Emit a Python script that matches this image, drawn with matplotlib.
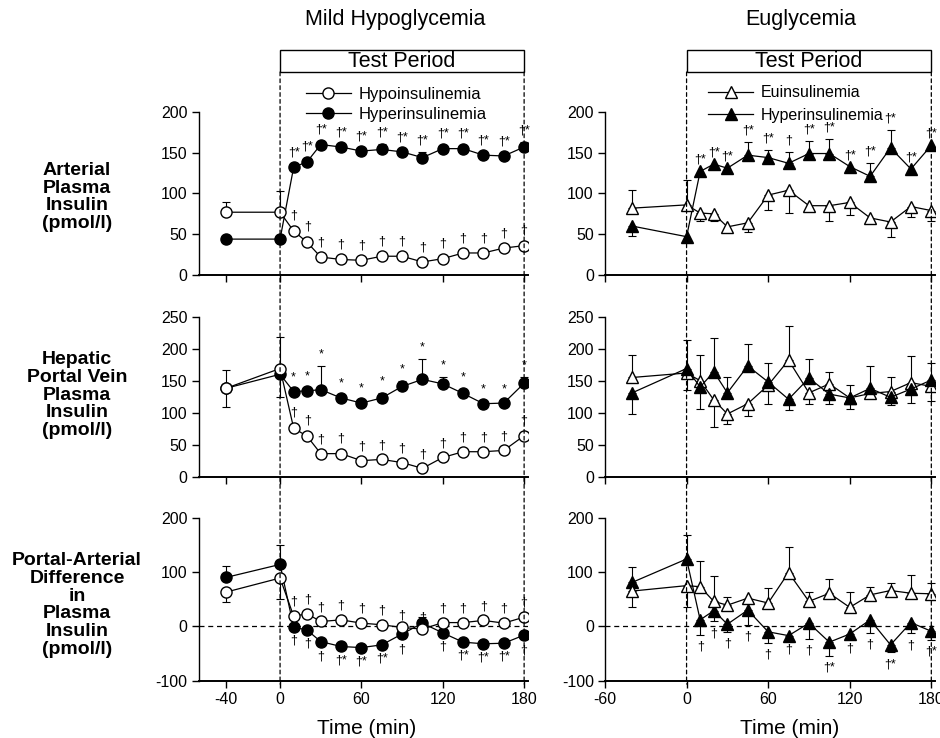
import numpy as np
import matplotlib.pyplot as plt
from matplotlib.patches import Rectangle, ConnectionPatch

plt.rcParams['font.family'] = ['Liberation Sans', 'DejaVu Sans']
plt.rcParams['axes.unicode_minus'] = False

# tiempos de muestreo (min)
tiempo = [-40, 0, 10, 20, 30, 45, 60, 75, 90, 105, 120, 135, 150, 165, 180]

# --- hipoglucemia leve ---
# insulina arterial
hypo_art = [77, 77, 54, 40, 22, 19, 18, 23, 23, 16, 20, 27, 27, 33, 36]
hypo_art_lo = [0, 0, 0, 0, 0, 0, 0, 0, 0, 0, 0, 0, 0, 0, 0]
hypo_art_hi = [13, 26, 5, 5, 4, 4, 4, 4, 4, 4, 4, 4, 4, 4, 5]
hyper_art = [44, 44, 132, 139, 160, 157, 152, 154, 151, 144, 155, 155, 147, 146, 157]
hyper_art_lo = [0, 0, 0, 0, 0, 0, 0, 0, 0, 0, 0, 0, 0, 0, 0]
hyper_art_hi = [0, 0, 4, 4, 4, 4, 4, 7, 4, 7, 4, 4, 4, 4, 6]
hypo_art_sig = ['', '', '†', '†', '†', '†', '†', '†', '†', '†', '†', '†', '†', '†', '†']
hyper_art_sig = ['', '', '†*', '†*', '†*', '†*', '†*', '†*', '†*', '†*', '†*', '†*', '†*', '†*', '†*']

# insulina en vena porta
hypo_pv = [138, 169, 76, 63, 36, 36, 25, 27, 22, 13, 30, 39, 39, 41, 64]
hypo_pv_lo = [29, 44, 5, 6, 0, 6, 0, 0, 0, 0, 0, 0, 0, 0, 0]
hypo_pv_hi = [29, 50, 6, 6, 4, 6, 4, 4, 4, 4, 4, 4, 4, 4, 6]
hyper_pv = [138, 160, 133, 134, 136, 123, 115, 123, 141, 152, 145, 130, 114, 115, 146]
hyper_pv_lo = [0, 0, 0, 0, 0, 0, 0, 0, 0, 0, 0, 0, 0, 0, 0]
hyper_pv_hi = [0, 0, 4, 4, 37, 4, 5, 7, 9, 32, 11, 7, 4, 4, 9]
hypo_pv_sig = ['', '', '†', '†', '†', '†', '†', '†', '†', '†', '†', '†', '†', '†', '†']
hyper_pv_sig = ['', '', '*', '*', '*', '*', '*', '*', '*', '*', '*', '*', '*', '*', '*']

# diferencia porta-arterial
hypo_pa = [63, 89, 19, 23, 9, 12, 6, 3, -2, -5, 7, 7, 11, 6, 17]
hypo_pa_lo = [18, 38, 0, 0, 0, 0, 0, 0, 0, 0, 0, 0, 0, 0, 0]
hypo_pa_hi = [0, 0, 6, 6, 5, 6, 5, 5, 0, 0, 5, 5, 5, 5, 6]
hyper_pa = [90, 114, -1, -7, -28, -37, -39, -34, -14, 6, -12, -29, -32, -31, -16]
hyper_pa_lo = [0, 0, 4, 4, 7, 4, 4, 4, 7, 0, 4, 4, 4, 4, 7]
hyper_pa_hi = [22, 35, 0, 0, 0, 0, 0, 0, 0, 12, 0, 0, 0, 0, 0]
hypo_pa_sig = ['', '', '†', '†', '†', '†', '†', '†', '†', '†', '†', '†', '†', '†', '†']
hyper_pa_sig = ['', '', '†', '†', '†', '†*', '†*', '†*', '†', '', '†', '†*', '†*', '†*', '†']

# --- euglucemia ---
eu_art = [82, 86, 76, 75, 59, 64, 98, 104, 85, 85, 89, 70, 65, 84, 79]
eu_art_lo = [0, 0, 10, 9, 0, 11, 18, 28, 0, 19, 16, 0, 18, 13, 13]
eu_art_hi = [22, 31, 0, 0, 0, 0, 0, 0, 0, 0, 0, 0, 0, 0, 0]
hypeu_art = [60, 47, 127, 136, 131, 147, 144, 137, 149, 149, 133, 121, 156, 130, 159]
hypeu_art_lo = [12, 0, 0, 0, 0, 0, 0, 0, 0, 0, 0, 0, 0, 0, 0]
hypeu_art_hi = [0, 0, 0, 0, 0, 16, 9, 14, 15, 18, 0, 16, 22, 0, 0]
hypeu_art_sig = ['', '', '†*', '†*', '†*', '†*', '†*', '†', '†*', '†*', '†*', '†*', '†*', '†*', '†*']

eu_pv = [155, 162, 150, 120, 98, 114, 143, 182, 131, 145, 123, 130, 133, 147, 141]
eu_pv_lo = [0, 26, 45, 43, 15, 19, 0, 0, 18, 0, 0, 0, 0, 0, 23]
eu_pv_hi = [35, 0, 0, 0, 0, 0, 34, 53, 0, 19, 20, 0, 23, 42, 0]
hypeu_pv = [131, 169, 140, 164, 131, 173, 148, 121, 154, 129, 123, 138, 124, 137, 151]
hypeu_pv_lo = [33, 0, 0, 0, 0, 0, 34, 17, 0, 15, 17, 0, 12, 22, 0]
hypeu_pv_hi = [0, 45, 50, 53, 24, 35, 0, 0, 30, 0, 0, 35, 0, 0, 26]

eu_pa = [65, 75, 73, 46, 39, 52, 43, 99, 46, 61, 35, 58, 66, 61, 60]
eu_pa_lo = [30, 40, 0, 0, 0, 0, 0, 0, 0, 0, 0, 0, 0, 0, 0]
eu_pa_hi = [0, 0, 48, 46, 15, 0, 28, 47, 18, 26, 28, 15, 14, 34, 20]
hypeu_pa = [81, 124, 12, 29, 4, 30, -10, -17, 6, -29, -14, 12, -34, 7, -9]
hypeu_pa_lo = [0, 0, 28, 20, 15, 27, 21, 5, 29, 25, 5, 24, 14, 20, 16]
hypeu_pa_hi = [29, 45, 0, 0, 0, 0, 0, 0, 0, 0, 0, 0, 0, 0, 0]
hypeu_pa_sig = ['', '', '†', '†', '†', '†', '†', '†', '†', '†*', '†', '†', '†*', '†', '†*']

sin_sig = [''] * len(tiempo)


def serie(ax, y, lo, hi, marker, relleno, ms, sig, lado, label=None, z=3):
    # barras de error solo donde hay valor
    idx = [i for i in range(len(tiempo)) if lo[i] > 0 or hi[i] > 0]
    ax.errorbar([tiempo[i] for i in idx], [y[i] for i in idx],
                yerr=[[lo[i] for i in idx], [hi[i] for i in idx]],
                fmt='none', ecolor='black', elinewidth=0.8, capsize=3,
                capthick=0.8, zorder=z - 1)
    ax.plot(tiempo, y, '-', color='black', lw=0.9, marker=marker, ms=ms,
            mfc=relleno, mec='black', mew=1, label=label, zorder=z)
    for t, v, l, h, s in zip(tiempo, y, lo, hi, sig):
        if not s:
            continue
        if lado > 0:
            ax.annotate(s, (t, v + h), xytext=(0, 4), textcoords='offset points',
                        ha='center', va='bottom', fontsize=9)
        else:
            ax.annotate(s, (t, v - l), xytext=(0, -4), textcoords='offset points',
                        ha='center', va='top', fontsize=9)


fig = plt.figure(figsize=(9.4, 7.38), dpi=100)

col_x = [0.2114, 0.6436]
col_w = [0.3505, 0.3515]
fila_y = [0.6274, 0.3541, 0.0776]
fila_h = [0.2209, 0.2168, 0.2209]

axs = [[fig.add_axes([col_x[c], fila_y[r], col_w[c], fila_h[r]]) for c in range(2)]
       for r in range(3)]

# columna izquierda
serie(axs[0][0], hyper_art, hyper_art_lo, hyper_art_hi, 'o', 'black', 8, hyper_art_sig, 1,
      label='Hyperinsulinemia', z=3)
serie(axs[0][0], hypo_art, hypo_art_lo, hypo_art_hi, 'o', 'white', 8, hypo_art_sig, 1,
      label='Hypoinsulinemia', z=4)
serie(axs[1][0], hyper_pv, hyper_pv_lo, hyper_pv_hi, 'o', 'black', 8, hyper_pv_sig, 1, z=3)
serie(axs[1][0], hypo_pv, hypo_pv_lo, hypo_pv_hi, 'o', 'white', 8, hypo_pv_sig, 1, z=4)
serie(axs[2][0], hyper_pa, hyper_pa_lo, hyper_pa_hi, 'o', 'black', 8, hyper_pa_sig, -1, z=3)
serie(axs[2][0], hypo_pa, hypo_pa_lo, hypo_pa_hi, 'o', 'white', 8, hypo_pa_sig, 1, z=4)

# columna derecha
serie(axs[0][1], hypeu_art, hypeu_art_lo, hypeu_art_hi, '^', 'black', 9, hypeu_art_sig, 1,
      label='Hyperinsulinemia', z=3)
serie(axs[0][1], eu_art, eu_art_lo, eu_art_hi, '^', 'white', 9, sin_sig, 1,
      label='Euinsulinemia', z=4)
serie(axs[1][1], hypeu_pv, hypeu_pv_lo, hypeu_pv_hi, '^', 'black', 9, sin_sig, 1, z=4)
serie(axs[1][1], eu_pv, eu_pv_lo, eu_pv_hi, '^', 'white', 9, sin_sig, 1, z=3)
serie(axs[2][1], hypeu_pa, hypeu_pa_lo, hypeu_pa_hi, '^', 'black', 9, hypeu_pa_sig, -1, z=3)
serie(axs[2][1], eu_pa, eu_pa_lo, eu_pa_hi, '^', 'white', 9, sin_sig, 1, z=4)

ylims = [(0, 200), (0, 250), (-100, 200)]
yticks = [[0, 50, 100, 150, 200], [0, 50, 100, 150, 200, 250], [-100, 0, 100, 200]]
xticks = [[-40, 0, 60, 120, 180], [-60, 0, 60, 120, 180]]

for r in range(3):
    for c in range(2):
        ax = axs[r][c]
        ax.set_xlim(-60, 183)
        ax.set_ylim(*ylims[r])
        ax.set_yticks(yticks[r])
        ax.set_xticks(xticks[c])
        ax.spines['top'].set_visible(False)
        ax.spines['right'].set_visible(False)
        ax.spines['left'].set_linewidth(1.0)
        ax.spines['bottom'].set_linewidth(1.4)
        ax.tick_params(direction='out', length=5, width=1, labelsize=11.5, pad=3)
        ax.set_facecolor('none')
        if r < 2:
            ax.tick_params(labelbottom=False)
        else:
            ax.axhline(0, color='black', lw=0.9, ls=(0, (4, 3)), zorder=1)
            ax.set_xlabel('Time (min)', fontsize=15)

axs[2][0].xaxis.set_label_coords(0.511, -0.235)
axs[2][1].xaxis.set_label_coords(0.56, -0.235)

# recuadro "Test Period" y lineas punteadas
for c in range(2):
    ax = axs[0][c]
    tr = ax.get_xaxis_transform()
    ax.add_patch(Rectangle((0, 1.245), 180, 0.135, transform=tr, fill=False,
                           lw=1, color='black', clip_on=False))
    ax.text(90, 1.3125, 'Test Period', transform=tr, ha='center', va='center',
            fontsize=15.5)
    for t in [0, 180]:
        linea = ConnectionPatch(xyA=(t, 1.245), coordsA=tr,
                                xyB=(t, -0.02), coordsB=axs[2][c].get_xaxis_transform(),
                                color='black', lw=0.9, ls=(0, (3, 2.5)))
        fig.add_artist(linea)

# leyendas
h, l = axs[0][0].get_legend_handles_labels()
axs[0][0].legend(h[::-1], l[::-1], loc='upper left', bbox_to_anchor=(0.299, 1.205),
                 frameon=False, borderpad=0, handlelength=2.75, handletextpad=0.45,
                 labelspacing=0.3, fontsize=12, numpoints=1)
h, l = axs[0][1].get_legend_handles_labels()
axs[0][1].legend(h[::-1], l[::-1], loc='upper left', bbox_to_anchor=(0.287, 1.212),
                 frameon=False, borderpad=0, handlelength=2.85, handletextpad=0.45,
                 labelspacing=0.45, fontsize=11.5, numpoints=1)

# titulos
fig.text(395 / 940, 1 - 20 / 738, 'Mild Hypoglycemia', ha='center', va='center', fontsize=15.5)
fig.text(801 / 940, 1 - 20 / 738, 'Euglycemia', ha='center', va='center', fontsize=15.5)

# etiquetas de fila
etiquetas = ['Arterial\nPlasma\nInsulin\n(pmol/l)',
             'Hepatic\nPortal Vein\nPlasma\nInsulin\n(pmol/l)',
             'Portal-Arterial\nDifference\nin\nPlasma\nInsulin\n(pmol/l)']
centros = [197, 395, 605]
for txt, yc in zip(etiquetas, centros):
    fig.text(77 / 940, 1 - yc / 738, txt, ha='center', va='center', fontsize=14,
             fontweight='bold', linespacing=1.05, multialignment='center')

plt.savefig('out.png', dpi=100)
